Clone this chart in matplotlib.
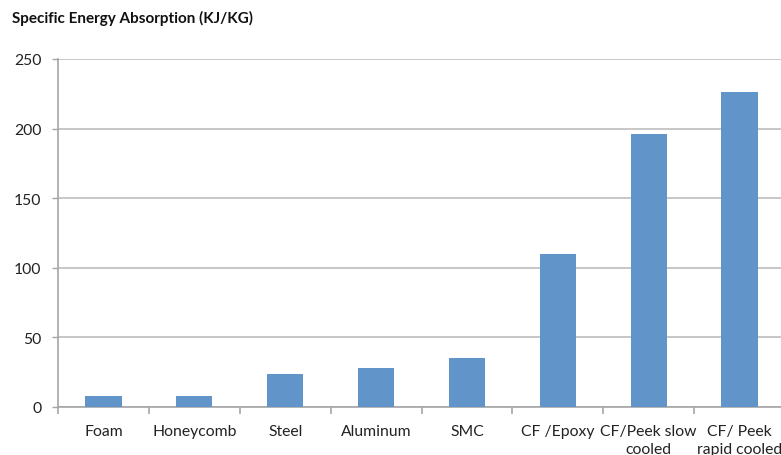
import matplotlib
matplotlib.use("Agg")
import matplotlib.pyplot as plt
import numpy as np

categories = ["Foam", "Honeycomb", "Steel", "Aluminum", "SMC", "CF /Epoxy",
              "CF/Peek slow\ncooled", "CF/ Peek\nrapid cooled"]
values = [8, 8, 24, 28, 35, 110, 196, 226]
y_ticks = [0, 50, 100, 150, 200, 250]

plt.rcParams["font.family"] = ["Lato", "DejaVu Sans"]

fig = plt.figure(figsize=(7.81, 4.56), dpi=100)
ax = fig.add_axes([58 / 781, 48 / 456, 727 / 781, 348 / 456])

x = np.arange(len(categories))
ax.bar(x, values, width=0.4, color="#6195CA", zorder=3)

ax.set_xlim(-0.5, len(categories) - 0.5)
ax.set_ylim(0, 250)
ax.set_yticks(y_ticks)
ax.set_yticklabels([str(v) for v in y_ticks], fontsize=11.3, color="#222222")
ax.yaxis.grid(True, color="#BDBDBD", linewidth=1.2, zorder=0)
ax.tick_params(axis="y", length=4, width=1, color="#A6A6A6", pad=8)

# category labels centred under each bar, ticks at category boundaries
ax.set_xticks(x)
ax.set_xticklabels(categories, fontsize=11.3, color="#222222", linespacing=1.4)
ax.set_xticks(np.arange(len(categories) + 1) - 0.5, minor=True)
ax.tick_params(axis="x", which="major", length=0, pad=12)
ax.tick_params(axis="x", which="minor", length=5, width=1.2, color="#A6A6A6")
for lbl in ax.get_xticklabels():
    lbl.set_verticalalignment("top")

for side in ["top", "right"]:
    ax.spines[side].set_visible(False)
ax.spines["left"].set_color("#A6A6A6")
ax.spines["left"].set_linewidth(1.2)
ax.spines["bottom"].set_color("#A6A6A6")
ax.spines["bottom"].set_linewidth(1.2)

fig.text(12 / 781, 1 - 18 / 456, "Specific Energy Absorption (KJ/KG)",
         fontsize=11, fontweight="bold", color="#111111", va="center", ha="left")

fig.savefig("out.png", dpi=100)
